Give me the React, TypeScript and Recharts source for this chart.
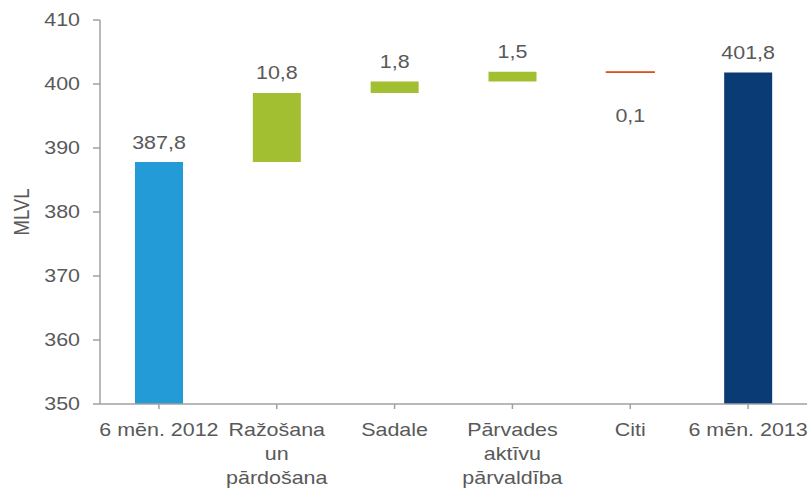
import React from 'react';
import { BarChart, Bar, XAxis, YAxis, Cell, LabelList } from 'recharts';

const categories = ['6 mēn. 2012', 'Ražošana\nun\npārdošana', 'Sadale', 'Pārvades\naktīvu\npārvaldība', 'Citi', '6 mēn. 2013'];
const changes = [387.8, 10.8, 1.8, 1.5, -0.1, 401.8];
const isTotal = [true, false, false, false, false, true];
const valueLabels = ['387,8', '10,8', '1,8', '1,5', '0,1', '401,8'];
const yTicks = [350, 360, 370, 380, 390, 400, 410];
const yMin = 350;
const yMax = 410;

const COLOR_START = '#239BD7';
const COLOR_END = '#0B3B75';
const COLOR_UP = '#A2BF32';
const COLOR_DOWN = '#D9531E';
const TEXT = '#595959';
const AXIS = '#A0A0A0';
const FONT = 'Liberation Sans, Arial, sans-serif';
const FS = 18.5;
const STRETCH = 1.16;

function buildData() {
  let running = 0;
  return categories.map((name, i) => {
    let range: [number, number];
    let color: string;
    if (isTotal[i]) {
      range = [yMin, changes[i]];
      running = changes[i];
      color = i === 0 ? COLOR_START : COLOR_END;
    } else {
      const next = running + changes[i];
      range = [Math.min(running, next), Math.max(running, next)];
      color = changes[i] >= 0 ? COLOR_UP : COLOR_DOWN;
      running = next;
    }
    return { name, range, color, label: valueLabels[i], neg: changes[i] < 0 };
  });
}

const data = buildData();

function SText({ x, y, children, anchor = 'middle' }: any) {
  return (
    <text
      transform={`translate(${x},${y}) scale(${STRETCH},1)`}
      textAnchor={anchor}
      dominantBaseline="central"
      fontFamily={FONT}
      fontSize={FS}
      fill={TEXT}
    >
      {children}
    </text>
  );
}

const YTick = (props: any) => {
  const { x, y, payload } = props;
  return <SText x={x} y={y} anchor="end">{payload.value}</SText>;
};

const XTick = (props: any) => {
  const { x, y, payload } = props;
  const lines = String(payload.value).split('\n');
  return (
    <g>
      {lines.map((ln, i) => (
        <SText key={i} x={x} y={y + 19 + i * 24}>{ln}</SText>
      ))}
    </g>
  );
};

const ValueLabel = (props: any) => {
  const { x, y, width, height, index } = props;
  const d = data[index];
  const cx = x + width / 2;
  const top = Math.min(y, y + height);
  const bottom = Math.max(y, y + height);
  const ty = d.neg ? bottom + 43 : top - 20;
  return <SText x={cx} y={ty}>{d.label}</SText>;
};

const YLabel = (props: any) => {
  const { viewBox } = props;
  const cy = viewBox.y + viewBox.height / 2;
  return (
    <text
      transform={`translate(22,${cy}) scale(${STRETCH},1) rotate(-90)`}
      textAnchor="middle"
      dominantBaseline="central"
      fontFamily={FONT}
      fontSize={FS}
      fill={TEXT}
    >
      MLVL
    </text>
  );
};

export default function App() {
  return (
    <div style={{ position: 'absolute', left: 0, top: 0, background: '#fff' }}>
      <BarChart width={810} height={488} data={data} margin={{ top: 20, right: 3, bottom: 0, left: 0 }}>
        <XAxis
          dataKey="name"
          height={84}
          interval={0}
          tick={<XTick />}
          tickSize={5}
          axisLine={{ stroke: AXIS, strokeWidth: 1.5 }}
          tickLine={{ stroke: AXIS, strokeWidth: 1.5 }}
        />
        <YAxis
          width={100}
          domain={[yMin, yMax]}
          ticks={yTicks}
          interval={0}
          tick={<YTick />}
          tickSize={7}
          tickMargin={13}
          axisLine={{ stroke: AXIS, strokeWidth: 1.5 }}
          tickLine={{ stroke: AXIS, strokeWidth: 1.5 }}
          label={<YLabel />}
        />
        <Bar dataKey="range" barSize={48} isAnimationActive={false}>
          {data.map((d, i) => (
            <Cell key={i} fill={d.color} stroke={d.neg ? d.color : 'none'} strokeWidth={d.neg ? 1.2 : 0} />
          ))}
          <LabelList dataKey="label" content={<ValueLabel />} />
        </Bar>
      </BarChart>
    </div>
  );
}
